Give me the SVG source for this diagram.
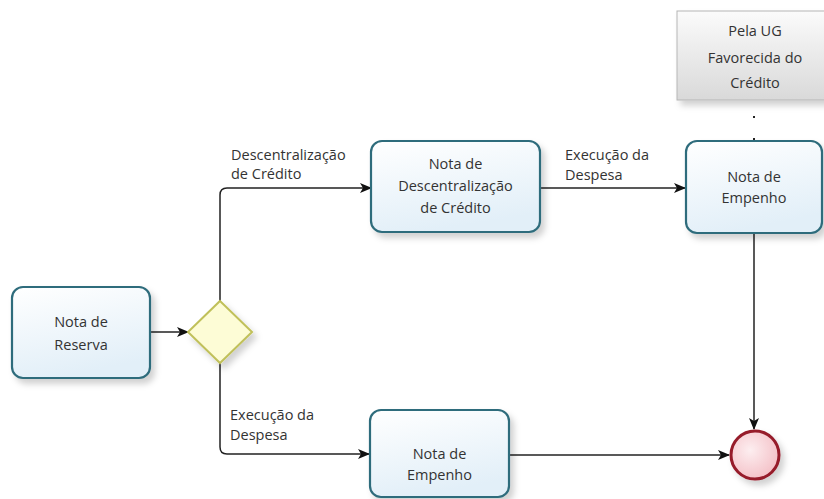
<svg xmlns="http://www.w3.org/2000/svg" width="824" height="499" viewBox="0 0 824 499">
<style>
.task{fill:url(#taskFill);stroke:#2f6c7c;stroke-width:2.2;filter:url(#shadow)}
.t{font-family:"Open Sans","Liberation Sans",sans-serif;font-size:14.5px;fill:#333;text-anchor:middle}
.lbl{font-family:"Open Sans","Liberation Sans",sans-serif;font-size:14.5px;fill:#333}
.flow{fill:none;stroke:#222;stroke-width:1.5}
</style>
<defs>
<linearGradient id="taskFill" x1="0" y1="0" x2="0.3" y2="1">
<stop offset="0" stop-color="#ffffff"/>
<stop offset="1" stop-color="#e2eff8"/>
</linearGradient>
<linearGradient id="grayFill" x1="0" y1="0" x2="0" y2="1">
<stop offset="0" stop-color="#fbfbfb"/>
<stop offset="1" stop-color="#d9d9d9"/>
</linearGradient>
<radialGradient id="endFill" cx="0.4" cy="0.4" r="0.7">
<stop offset="0" stop-color="#fdeef0"/>
<stop offset="1" stop-color="#f3bcc3"/>
</radialGradient>
<filter id="shadow" x="-20%" y="-20%" width="150%" height="150%">
<feDropShadow dx="4" dy="5" stdDeviation="3" flood-color="#000" flood-opacity="0.18"/>
</filter>
<marker id="arr" markerWidth="12" markerHeight="10" refX="11" refY="5" orient="auto" markerUnits="userSpaceOnUse">
<path d="M0,0 L12,5 L0,10 L3,5 z" fill="#111"/>
</marker>
</defs>

<g id="connectors">
<line class="flow" x1="150" y1="332" x2="188" y2="332" marker-end="url(#arr)"/>
<path class="flow" d="M220,302 V195 Q220,188 227,188 H371" marker-end="url(#arr)"/>
<path class="flow" d="M220,363 V447 Q220,454 227,454 H369" marker-end="url(#arr)"/>
<line class="flow" x1="540" y1="188" x2="685" y2="188" marker-end="url(#arr)"/>
<line class="flow" x1="754" y1="233" x2="754" y2="429" marker-end="url(#arr)"/>
<line class="flow" x1="509" y1="455" x2="729" y2="455" marker-end="url(#arr)"/>
<line x1="754" y1="116" x2="754" y2="142" stroke="#222" stroke-width="2" stroke-dasharray="2,20"/>
<text class="lbl" x="231" y="160">Descentralização</text>
<text class="lbl" x="231" y="179">de Crédito</text>
<text class="lbl" x="565" y="160">Execução da</text>
<text class="lbl" x="565" y="180">Despesa</text>
<text class="lbl" x="230" y="420">Execução da</text>
<text class="lbl" x="230" y="440">Despesa</text>
</g>

<g id="nota-reserva">
<rect class="task" x="12" y="287" width="138" height="91" rx="11"/>
<text class="t" x="81" y="327">Nota de</text>
<text class="t" x="81" y="350">Reserva</text>
</g>

<g id="gateway">
<polygon points="220,301 252,332 220,363 188,332" fill="#fdfcd6" stroke="#c0c05a" stroke-width="2" filter="url(#shadow)"/>
</g>

<g id="nota-descentralizacao">
<rect class="task" x="371" y="141" width="169" height="91" rx="11"/>
<text class="t" x="455.5" y="169">Nota de</text>
<text class="t" x="455.5" y="191">Descentralização</text>
<text class="t" x="455.5" y="213">de Crédito</text>
</g>

<g id="nota-empenho-top">
<rect class="task" x="686" y="141" width="136" height="92" rx="11"/>
<text class="t" x="754" y="182">Nota de</text>
<text class="t" x="754" y="203">Empenho</text>
</g>

<g id="pela-ug">
<rect x="677" y="11" width="160" height="89" fill="url(#grayFill)" stroke="#b5b5b5" stroke-width="1" filter="url(#shadow)"/>
<text class="t" x="755" y="36">Pela UG</text>
<text class="t" x="755" y="63">Favorecida do</text>
<text class="t" x="755" y="88">Crédito</text>
</g>

<g id="nota-empenho-bottom">
<rect class="task" x="370" y="410" width="139" height="87" rx="11"/>
<text class="t" x="439.5" y="459">Nota de</text>
<text class="t" x="439.5" y="480">Empenho</text>
</g>

<g id="end-event">
<circle cx="755" cy="455" r="24" fill="url(#endFill)" stroke="#961a2a" stroke-width="3" filter="url(#shadow)"/>
</g>
</svg>
